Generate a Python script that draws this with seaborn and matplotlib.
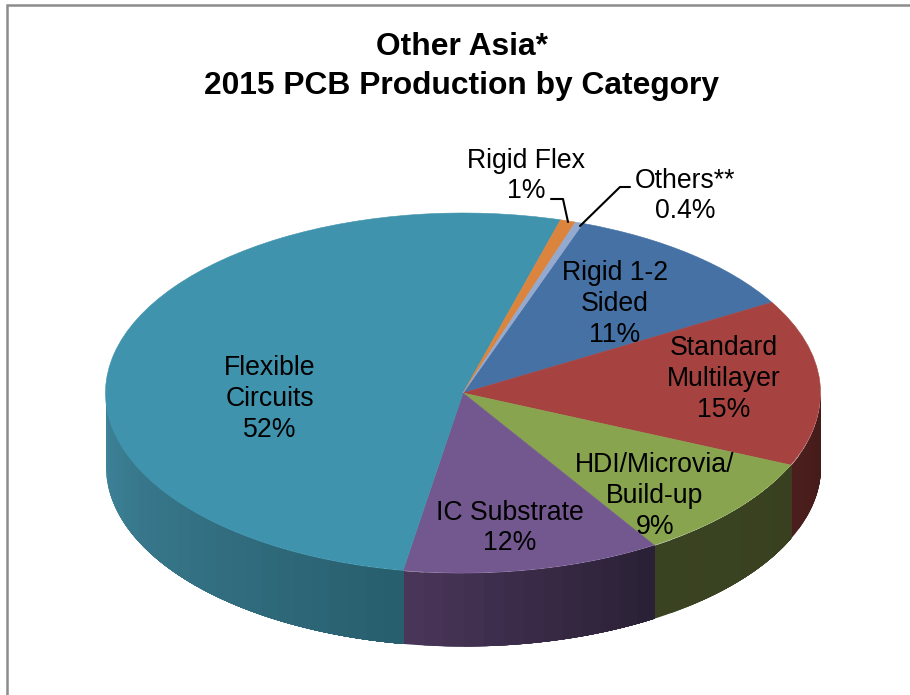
import matplotlib
matplotlib.use("Agg")
import matplotlib.pyplot as plt
import seaborn as sns
import numpy as np
from matplotlib.colors import to_rgb

sns.set_theme(style="white")
plt.rcParams["font.family"] = ["Liberation Sans", "DejaVu Sans"]

W, H = 910, 695
CX, CY, RX, RY = 463, 393, 357.5, 180
DEPTH = 73

categories = ["Rigid 1-2\nSided", "Standard\nMultilayer", "HDI/Microvia/\nBuild-up",
              "IC Substrate", "Flexible\nCircuits", "Rigid Flex", "Others**"]
shares = [11.2, 15.0, 9.5, 11.7, 51.9, 0.7, 0.35]
share_labels = ["11%", "15%", "9%", "12%", "52%", "1%", "0.4%"]

top_colors = ["#4671a5", "#a64341", "#88a44e", "#73578f", "#3f93ad", "#db843d", "#93a9cf"]
wall_light = ["#2c4566", "#4a1e1c", "#3a4321", "#483558", "#3f8399", "#8a5327", "#5f6e87"]
wall_dark = ["#2c4566", "#441b19", "#384020", "#2a2136", "#285f6e", "#8a5327", "#5f6e87"]

label_pos = [(615, 304), (724, 379), (655, 496), (510, 528), (270, 399), (526, 176), (685, 196)]


def px(x, y):
    return (x - CX) / RX, (CY - y) / RY


fig = plt.figure(figsize=(W / 100, H / 100), dpi=100)
ax = fig.add_axes([0, 0, 1, 1])

wedges, _ = ax.pie(
    shares,
    colors=top_colors,
    startangle=70.4,
    counterclock=False,
    radius=1,
    wedgeprops={"linewidth": 0.4},
)
for wedge, colour in zip(wedges, top_colors):
    wedge.set_edgecolor(colour)
    wedge.set_zorder(5)

ax.set_aspect("auto")
ax.set_xlim(px(0, 0)[0], px(W, 0)[0])
ax.set_ylim(px(0, H)[1], px(0, 0)[1])
ax.axis("off")

# side wall, each band runs on to the wedge end and gets painted over by the next,
# that way no seams show between the shades
d = DEPTH / RY
for wedge, light, dark in zip(wedges, wall_light, wall_dark):
    for k in (-360, 0, 360):
        lo = max(wedge.theta1 + k, 180)
        hi = min(wedge.theta2 + k, 360)
        if hi <= lo:
            continue
        steps = max(int(hi - lo) // 3, 1)
        starts = np.linspace(lo, hi, steps + 1)[:-1]
        x_lo, x_hi = np.cos(np.radians(lo)), np.cos(np.radians(hi))
        if x_lo > x_hi:
            starts = starts[::-1]
        for s, a in enumerate(starts):
            span = (a, hi) if x_lo < x_hi else (lo, a + (hi - lo) / steps)
            theta = np.radians(np.linspace(span[0], span[1], 200))
            x = np.cos(theta)
            y = np.sin(theta)
            t = s / max(steps - 1, 1)
            colour = (1 - t) * np.array(to_rgb(light)) + t * np.array(to_rgb(dark))
            ax.fill_between(x, y, y - d, color=colour, linewidth=0, zorder=2)

# leader lines
for points in ([(551, 199), (563, 199), (568, 222)], [(630, 187), (620, 187), (580, 226)]):
    xs, ys = zip(*[px(*p) for p in points])
    ax.plot(xs, ys, color="black", linewidth=1.5, zorder=6)

for name, pct, pos in zip(categories, share_labels, label_pos):
    ax.text(*px(*pos), f"{name}\n{pct}", ha="center", va="center", fontsize=19.2,
            color="black", linespacing=1.235, zorder=7)

ax.text(*px(462, 66.5), "Other Asia*\n2015 PCB Production by Category", ha="center",
        va="center", fontsize=22.9, fontweight="bold", color="black", linespacing=1.37, zorder=7)

# chart frame, only the top and left sides fall inside the crop
ax.plot(*zip(px(7.2, H), px(7.2, 5.2), px(W, 5.2)), color="#8c8c8c", linewidth=1.8, zorder=8,
        solid_joinstyle="miter")

fig.savefig("out.png", dpi=100, facecolor="white")
